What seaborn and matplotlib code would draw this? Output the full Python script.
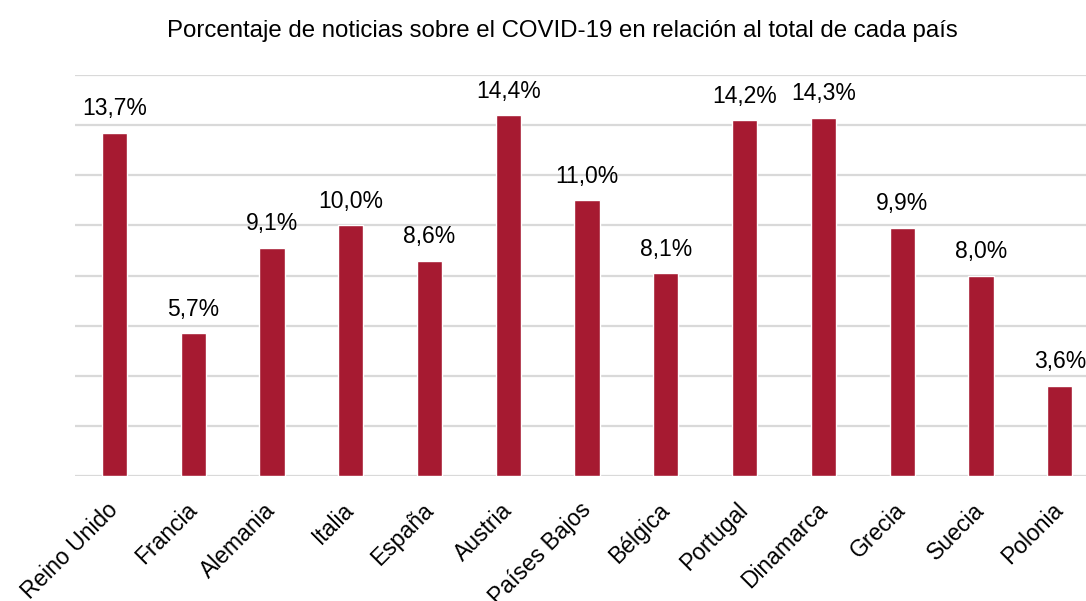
import matplotlib
matplotlib.use('Agg')
import matplotlib.pyplot as plt
import seaborn as sns
import pandas as pd

paises = ['Reino Unido', 'Francia', 'Alemania', 'Italia', 'España', 'Austria',
          'Países Bajos', 'Bélgica', 'Portugal', 'Dinamarca', 'Grecia', 'Suecia', 'Polonia']
porcentaje = [13.7, 5.7, 9.1, 10.0, 8.6, 14.4, 11.0, 8.1, 14.2, 14.3, 9.9, 8.0, 3.6]
titulo = 'Porcentaje de noticias sobre el COVID-19 en relación al total de cada país'

df = pd.DataFrame({'pais': paises, 'pct': porcentaje})

sns.set_style('white')
plt.rcParams['font.family'] = ['Liberation Sans', 'DejaVu Sans']
plt.rcParams['text.color'] = 'black'
plt.rcParams['xtick.color'] = 'black'

fig = plt.figure(figsize=(10.86, 6.01), dpi=100)
ax = fig.add_axes([0.0691, 0.208, 0.943, 0.667])

sns.barplot(data=df, x='pais', y='pct', color='#A61A31', saturation=1,
            width=0.32, ax=ax)

ax.set_ylim(0, 16)
ax.set_yticks(range(0, 17, 2))
ax.set_yticklabels([])
ax.yaxis.grid(True, color='#D9D9D9', linewidth=1.6)
ax.set_axisbelow(True)
ax.tick_params(axis='y', length=0)
ax.tick_params(axis='x', length=0, pad=22)
for s in ax.spines.values():
    s.set_visible(False)
ax.set_xlabel('')
ax.set_ylabel('')
ax.set_xticks(range(len(paises)))
ax.set_xticklabels(paises, rotation=45, ha='right', va='center',
                   rotation_mode='anchor', fontsize=16.5, color='black')

for i, v in enumerate(porcentaje):
    ax.annotate(f'{v:.1f}%'.replace('.', ','), (i, v), xytext=(0, 9),
                textcoords='offset points', ha='center', va='bottom',
                fontsize=16.5, color='black')

fig.text(0.518, 0.948, titulo, ha='center', va='center', fontsize=17.3,
         color='black')

fig.savefig('out.png', dpi=100)
